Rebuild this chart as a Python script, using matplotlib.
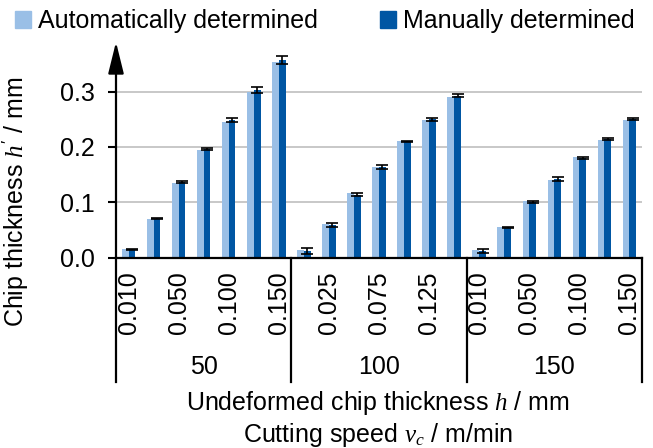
import numpy as np
import matplotlib
matplotlib.use('Agg')
import matplotlib.pyplot as plt
from matplotlib.patches import Patch
import matplotlib.transforms as mtransforms

speeds = ['50', '100', '150']
thickness = ['0.010', '0.025', '0.050', '0.075', '0.100', '0.125', '0.150']
auto = [0.016, 0.070, 0.135, 0.195, 0.245, 0.300, 0.353,
        0.013, 0.060, 0.116, 0.163, 0.210, 0.249, 0.291,
        0.014, 0.055, 0.102, 0.141, 0.181, 0.212, 0.249]
manual = [0.015, 0.070, 0.136, 0.196, 0.249, 0.303, 0.358,
          0.012, 0.059, 0.114, 0.164, 0.210, 0.250, 0.293,
          0.012, 0.054, 0.100, 0.142, 0.180, 0.214, 0.250]
manual_err = [0.001, 0.001, 0.002, 0.002, 0.004, 0.006, 0.007,
              0.005, 0.003, 0.003, 0.003, 0.001, 0.003, 0.002,
              0.003, 0.001, 0.002, 0.003, 0.002, 0.002, 0.002]

plt.rcParams['font.family'] = ['Liberation Sans', 'DejaVu Sans']
plt.rcParams['mathtext.fontset'] = 'custom'
plt.rcParams['mathtext.it'] = 'Liberation Serif:italic'
plt.rcParams['mathtext.rm'] = 'Liberation Sans'
fs = 18
light = '#9ABFE6'
dark = '#0056A3'

W, H = 653, 448
fig = plt.figure(figsize=(W / 100, H / 100), dpi=100)
x0, x1, ybot, ytop = 116, 642, 257.5, 42
ax = fig.add_axes([x0 / W, 1 - ybot / H, (x1 - x0) / W, (ybot - ytop) / H])

n = len(auto)
x = np.arange(n)
labels = thickness * len(speeds)
bw = 0.27
ax.bar(x - bw / 2, auto, bw, color=light, zorder=2)
ax.bar(x + bw / 2, manual, bw, color=dark, zorder=2)
ax.errorbar(x + bw / 2, manual, yerr=manual_err, fmt='none', ecolor='black',
            elinewidth=1.2, capsize=4.3, capthick=1.2, zorder=3)

ax.set_xlim(-0.5, n - 0.5)
ax.set_ylim(0, 0.39)
ax.set_yticks([0, 0.1, 0.2, 0.3])
ax.set_yticklabels(['0.0', '0.1', '0.2', '0.3'], fontsize=fs)
ax.yaxis.grid(True, color='#BFBFBF', lw=1.2, zorder=0)
ax.set_axisbelow(True)
ax.tick_params(axis='y', direction='out', length=6, width=1.5, pad=9)

ax.set_xticks(x)
ax.set_xticklabels([l if i % 2 == 0 else '' for i, l in enumerate(labels)],
                   rotation=90, fontsize=fs)
ax.tick_params(axis='x', length=0, pad=10)

for s in ['top', 'right']:
    ax.spines[s].set_visible(False)
ax.spines['left'].set_visible(False)
ax.spines['bottom'].set_linewidth(1.6)

# y axis with arrow
ax.annotate('', xy=(0, 1), xytext=(0, 0), xycoords='axes fraction',
            arrowprops=dict(arrowstyle='-|>,head_length=0.97,head_width=0.24',
                            mutation_scale=20, lw=1.6, color='black',
                            shrinkA=0, shrinkB=0))

# group separators and group labels below axis
trans = mtransforms.blended_transform_factory(ax.transData, ax.transAxes)
hpx = ybot - ytop
ylow = -(382 - ybot) / hpx
for b in np.arange(-0.5, n, 7):
    ax.plot([b, b], [0, ylow], color='black', lw=1.6, transform=trans, clip_on=False)
for g, sp in enumerate(speeds):
    ax.text(g * 7 + 3, -(367 - ybot) / hpx, sp, transform=trans, ha='center',
            va='center', fontsize=fs)

ax.set_ylabel("Chip thickness $h'$ / mm", fontsize=fs)
ax.yaxis.set_label_coords((30 - x0) / (x1 - x0), (ybot - 202) / hpx)

fig.text(378 / W, 1 - 403 / H, 'Undeformed chip thickness $h$ / mm',
         ha='center', va='center', fontsize=fs)
fig.text(378 / W, 1 - 435 / H, 'Cutting speed $v_c$ / m/min',
         ha='center', va='center', fontsize=fs)

handles = [Patch(color=light, label='Automatically determined'),
           Patch(color=dark, label='Manually determined')]
fig.legend(handles=handles, loc='upper left', bbox_to_anchor=(15 / W, 1 - 9 / H),
           ncol=2, frameon=False, fontsize=fs, handlelength=0.65, handleheight=0.65,
           handletextpad=0.26, columnspacing=2.5, borderpad=0, borderaxespad=0)

fig.savefig('out.png', dpi=100)
